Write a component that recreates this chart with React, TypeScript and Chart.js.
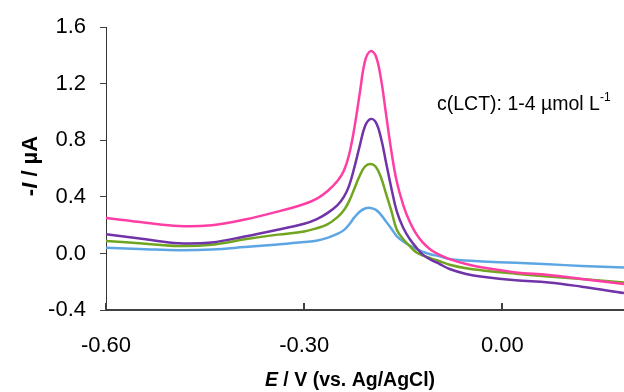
import { useEffect, useRef } from "react";
import { Chart, registerables } from "chart.js";

Chart.register(...registerables);

// Potential (V vs. Ag/AgCl)
const potential = [
  -0.6, -0.54, -0.49, -0.44, -0.39, -0.34, -0.3, -0.28, -0.265, -0.25, -0.24, -0.232,
  -0.224, -0.216, -0.208, -0.2, -0.192, -0.184, -0.176, -0.168, -0.16, -0.15, -0.14,
  -0.13, -0.12, -0.108, -0.095, -0.08, -0.055, -0.03, 0.02, 0.07, 0.12, 0.184,
];

// Current (-I / µA) for each LCT concentration
const current4 = [
  0.25, 0.217, 0.194, 0.2, 0.24, 0.296, 0.35, 0.39, 0.44, 0.51, 0.585, 0.7, 0.89,
  1.13, 1.36, 1.43, 1.4, 1.24, 0.98, 0.72, 0.51, 0.34, 0.22, 0.135, 0.075, 0.025,
  -0.01, -0.04, -0.075, -0.1, -0.134, -0.152, -0.18, -0.217,
];
const current3 = [
  0.135, 0.1, 0.072, 0.078, 0.12, 0.168, 0.21, 0.245, 0.285, 0.34, 0.4, 0.48, 0.61,
  0.76, 0.9, 0.95, 0.93, 0.82, 0.64, 0.46, 0.3, 0.18, 0.1, 0.04, -0.01, -0.045,
  -0.075, -0.11, -0.145, -0.165, -0.19, -0.205, -0.235, -0.28,
];
const current2 = [
  0.088, 0.069, 0.053, 0.062, 0.1, 0.133, 0.155, 0.18, 0.205, 0.255, 0.305, 0.37, 0.46,
  0.55, 0.615, 0.633, 0.615, 0.54, 0.42, 0.3, 0.17, 0.1, 0.05, 0.006, -0.015, -0.035,
  -0.055, -0.08, -0.105, -0.12, -0.143, -0.163, -0.18, -0.205,
];
const current1 = [
  0.041, 0.03, 0.023, 0.028, 0.045, 0.064, 0.081, 0.092, 0.11, 0.138, 0.165, 0.205, 0.255,
  0.295, 0.318, 0.322, 0.31, 0.275, 0.225, 0.175, 0.123, 0.085, 0.055, 0.03, 0.01, -0.007,
  -0.02, -0.04, -0.05, -0.057, -0.066, -0.077, -0.088, -0.1,
];

const xTickValues = [-0.6, -0.3, 0];
const yTickValues = [-0.4, 0, 0.4, 0.8, 1.2, 1.6];

const seriesColors = ["#FF3EA5", "#7033A8", "#72A51F", "#5EA6E3"];
const seriesValues = [current4, current3, current2, current1];

const FONT = "'Liberation Sans', Arial, sans-serif";

type Run = { t: string; italic?: boolean; bold?: boolean; size: number; dy?: number };

function fontOf(r: Run) {
  return `${r.italic ? "italic " : ""}${r.bold ? "bold " : ""}${r.size}px ${FONT}`;
}

function runsWidth(ctx: CanvasRenderingContext2D, runs: Run[]) {
  let w = 0;
  for (const r of runs) {
    ctx.font = fontOf(r);
    w += ctx.measureText(r.t).width;
  }
  return w;
}

function drawRuns(ctx: CanvasRenderingContext2D, runs: Run[], x: number, y: number) {
  let cx = x;
  for (const r of runs) {
    ctx.font = fontOf(r);
    ctx.fillText(r.t, cx, y + (r.dy || 0));
    cx += ctx.measureText(r.t).width;
  }
}

const decorations = {
  id: "decorations",
  afterDraw(chart: any) {
    const { ctx, chartArea } = chart;
    const xScale = chart.scales.x;
    ctx.save();

    // tick marks on the potential axis point into the plot
    ctx.strokeStyle = "#404040";
    ctx.lineWidth = 2;
    for (const v of xTickValues) {
      const px = Math.round(xScale.getPixelForValue(v));
      ctx.beginPath();
      ctx.moveTo(px, chartArea.bottom);
      ctx.lineTo(px, chartArea.bottom - 7);
      ctx.stroke();
    }

    ctx.fillStyle = "#000";
    ctx.textBaseline = "middle";
    ctx.textAlign = "left";

    // x-axis title
    const xTitle: Run[] = [
      { t: "E", italic: true, bold: true, size: 19.5 },
      { t: " / V (vs. Ag/AgCl)", bold: true, size: 19.5 },
    ];
    const xw = runsWidth(ctx, xTitle);
    drawRuns(ctx, xTitle, 350 - xw / 2, 381);

    // y-axis title
    const yTitle: Run[] = [
      { t: "-", bold: true, size: 22 },
      { t: "I", italic: true, bold: true, size: 22 },
      { t: " / µA", bold: true, size: 22 },
    ];
    const yw = runsWidth(ctx, yTitle);
    ctx.save();
    ctx.translate(31, 166);
    ctx.rotate(-Math.PI / 2);
    drawRuns(ctx, yTitle, -yw / 2, 0);
    ctx.restore();

    // concentration note
    const note: Run[] = [
      { t: "c(LCT): 1-4 µmol L", size: 19.5 },
      { t: "-1", size: 12, dy: -7 },
    ];
    drawRuns(ctx, note, 437, 105);

    ctx.restore();
  },
};

export default function App() {
  const canvasRef = useRef<HTMLCanvasElement | null>(null);

  useEffect(() => {
    const canvas = canvasRef.current;
    if (!canvas) return;

    const datasets = seriesValues.map((vals, i) => ({
      data: potential.map((x, k) => ({ x, y: vals[k] })),
      borderColor: seriesColors[i],
      backgroundColor: seriesColors[i],
      borderWidth: 2.5,
      pointRadius: 0,
      tension: 0.4,
      fill: false,
    }));

    const chart = new Chart(canvas, {
      type: "line",
      data: { datasets },
      options: {
        responsive: false,
        animation: false,
        devicePixelRatio: 1,
        layout: { padding: { top: 25, right: 0, left: 0, bottom: 0 } },
        plugins: { legend: { display: false }, tooltip: { enabled: false } },
        scales: {
          x: {
            type: "linear",
            min: -0.6,
            max: 0.184,
            afterBuildTicks: (s: any) => {
              s.ticks = xTickValues.map((value) => ({ value }));
            },
            afterFit: (s: any) => {
              s.height = 82;
            },
            grid: { display: false, drawTicks: false },
            border: { display: true, color: "#404040", width: 2 },
            ticks: {
              padding: 23,
              maxRotation: 0,
              autoSkip: false,
              color: "#000",
              font: { family: FONT, size: 22 },
              callback: (v: any) => Number(v).toFixed(2),
            },
          },
          y: {
            type: "linear",
            min: -0.4,
            max: 1.6,
            afterBuildTicks: (s: any) => {
              s.ticks = yTickValues.map((value) => ({ value }));
            },
            afterFit: (s: any) => {
              s.width = 106;
            },
            grid: {
              display: true,
              drawOnChartArea: false,
              drawTicks: true,
              tickLength: 6,
              color: "#404040",
              lineWidth: 1,
            },
            border: { display: true, color: "#333", width: 1 },
            ticks: {
              padding: 14,
              color: "#000",
              font: { family: FONT, size: 22 },
              callback: (v: any) => Number(v).toFixed(1),
            },
          },
        },
      },
      plugins: [decorations],
    });

    return () => chart.destroy();
  }, []);

  return (
    <div style={{ position: "absolute", left: 0, top: 0, width: 624, height: 392, background: "#fff" }}>
      <canvas ref={canvasRef} width={624} height={392} />
    </div>
  );
}
